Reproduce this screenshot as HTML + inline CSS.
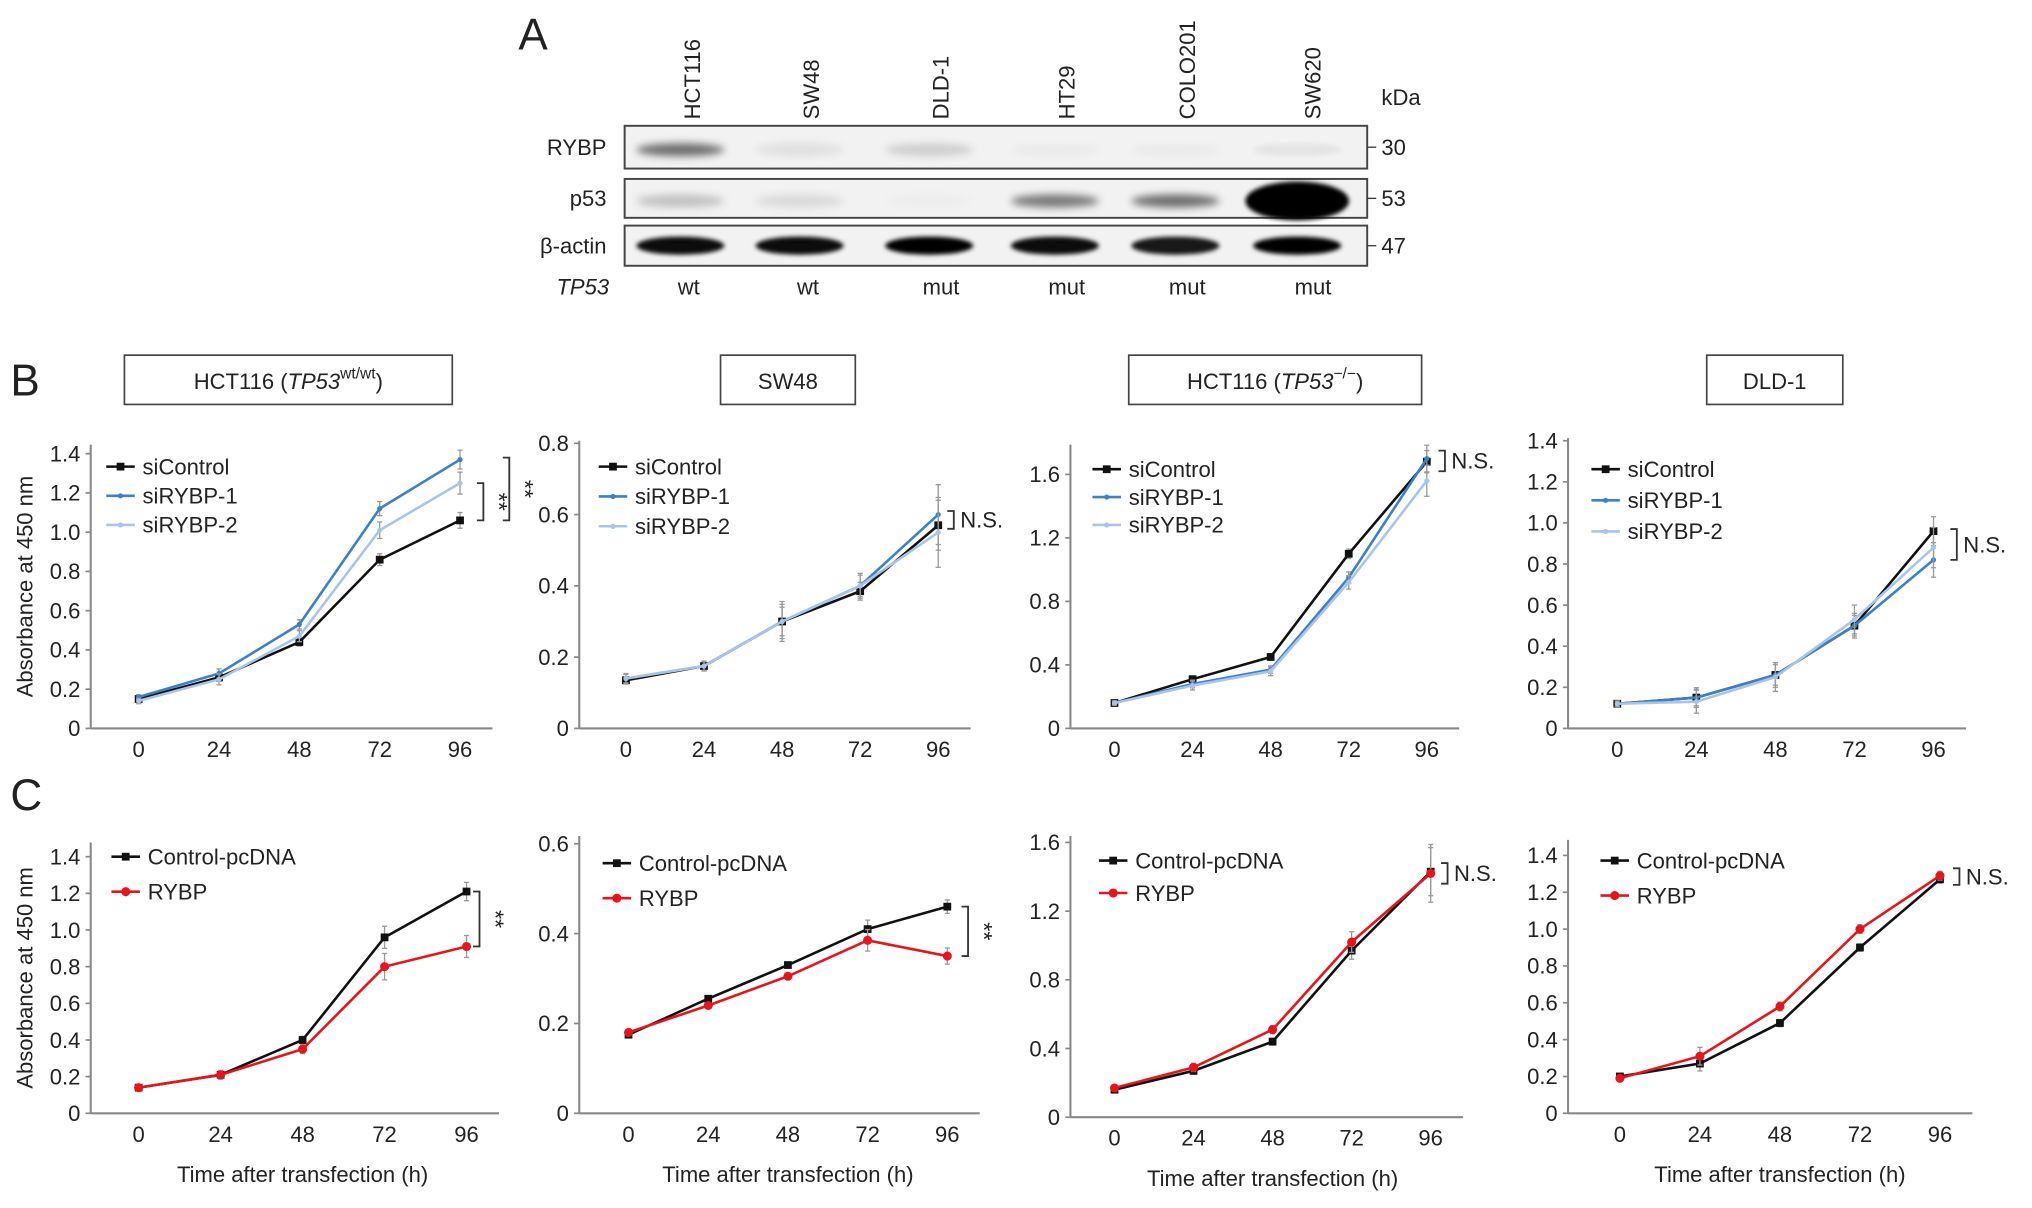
<!DOCTYPE html>
<html><head><meta charset="utf-8"><style>
html,body{margin:0;padding:0;background:#fff;}
svg{display:block;}
text{font-family:"Liberation Sans",Arial,sans-serif;fill:#222;}
</style></head><body>
<svg id="fig" width="2032" height="1208" viewBox="0 0 1568 932" xmlns="http://www.w3.org/2000/svg">
<defs>
<filter id="blur2" x="-50%" y="-100%" width="200%" height="300%"><feGaussianBlur stdDeviation="3"/></filter>
<filter id="blur1" x="-50%" y="-100%" width="200%" height="300%"><feGaussianBlur stdDeviation="1.6"/></filter>
</defs>
<g id="panelA">
<text x="400" y="38" font-size="34">A</text>
</g>
<g id="charts"></g>
</svg>
<script>
const NS='http://www.w3.org/2000/svg';
const svg=document.getElementById('fig');
const A=document.getElementById('panelA');
const C=document.getElementById('charts');
function mk(tag,attrs,parent,txt){const e=document.createElementNS(NS,tag);for(const k in attrs)e.setAttribute(k,attrs[k]);if(txt!==undefined)e.textContent=txt;(parent||svg).appendChild(e);return e;}

// ---------- Panel A: blot ----------
const laneNames=['HCT116','SW48','DLD-1','HT29','COLO201','SW620'];
const laneX=[533,625,725,822,915,1012];
const tp53Status=['wt','wt','mut','mut','mut','mut'];
const rybpIntensity=[0.55,0.08,0.15,0.03,0.03,0.06];
const p53Intensity=[0.2,0.1,0.02,0.5,0.55,1.0];
const actinIntensity=[0.95,0.95,1.0,0.95,0.9,1.0];
const rowNames=['RYBP','p53','β-actin'];
const rowY=[[97,130],[138,168],[174,205]];
const kda=['30','53','47'];
laneNames.forEach((n,i)=>{
  const t=mk('text',{x:laneX[i]+7,y:92,'font-size':17,transform:`rotate(-90 ${laneX[i]+7} 92)`},A,n);
  
  
  const s=mk('text',{x:laneX[i]-10+(i>1?-3:0),y:227,'font-size':17,'text-anchor':'start'},A,tp53Status[i]);
  
  
});
mk('text',{x:1066,y:81,'font-size':17},A,'kDa');
rowNames.forEach((n,r)=>{
  const [y0,y1]=rowY[r];
  const box=mk('rect',{x:482,y:y0,width:573,height:y1-y0,fill:'#f2f2f2',stroke:'#444','stroke-width':1.5},A);
  
  
  const l=mk('text',{x:468,y:(y0+y1)/2+6,'font-size':17,'text-anchor':'end'},A,n);
  
  
  mk('line',{x1:1055,y1:(y0+y1)/2,x2:1062,y2:(y0+y1)/2,stroke:'#333'},A);
  mk('text',{x:1066,y:(y0+y1)/2+6,'font-size':17},A,kda[r]);
  const vals=r===0?rybpIntensity:r===1?p53Intensity:actinIntensity;
  laneNames.forEach((_,i)=>{
    const v=vals[i];
    let ry=r===2?7:(r===1&&i===5?15:5);
    let rx=r===1&&i===5?40:34;
    const b=mk('ellipse',{cx:laneX[i]-8+(i===5?-3:0),cy:(y0+y1)/2+(r===2?0:2),rx:rx,ry:ry,fill:'#000','fill-opacity':v,filter:r===2||i===5?'url(#blur1)':'url(#blur2)'},A);
    
    
  });
});
mk('text',{x:470,y:227,'font-size':17,'text-anchor':'end','font-style':'italic'},A,'TP53');

// ---------- Panel labels & title boxes ----------
mk('text',{x:8,y:305,'font-size':34},C,'B');
mk('text',{x:8,y:625,'font-size':34},C,'C');
const titleBoxes=[[96,274,253,38,'HCT116 (','TP53','wt/wt',')'],[556,274,104,38,'SW48'],[871,274,226,38,'HCT116 (','TP53','−/−',')'],[1317,274,105,38,'DLD-1']];
titleBoxes.forEach(b=>{
  const g=mk('g',{},C);
  
  
  mk('rect',{x:b[0],y:b[1],width:b[2],height:b[3],fill:'#fff',stroke:'#444','stroke-width':1.3},g);
  const t=mk('text',{x:b[0]+b[2]/2,y:b[1]+26,'font-size':17,'text-anchor':'middle'},g);
  if(b.length===5){t.textContent=b[4];}
  else{
    mk('tspan',{},t,b[4]);mk('tspan',{'font-style':'italic'},t,b[5]);
    mk('tspan',{'font-size':12,dy:-8},t,b[6]);mk('tspan',{dy:8},t,b[7]);
  }
});

// ---------- Chart data ----------
const timePoints=[0,24,48,72,96];
const siLabels=['siControl','siRYBP-1','siRYBP-2'];
const ovLabels=['Control-pcDNA','RYBP'];
// Panel B
const b1Control=[0.15,0.26,0.44,0.86,1.06];
const b1RYBP1=[0.16,0.28,0.53,1.12,1.37];
const b1RYBP2=[0.14,0.25,0.47,1.01,1.25];
const b2Control=[0.135,0.175,0.30,0.385,0.57];
const b2RYBP1=[0.14,0.175,0.30,0.40,0.60];
const b2RYBP2=[0.14,0.175,0.30,0.40,0.55];
const b3Control=[0.16,0.31,0.45,1.10,1.68];
const b3RYBP1=[0.16,0.28,0.37,0.95,1.70];
const b3RYBP2=[0.16,0.27,0.36,0.92,1.56];
const b4Control=[0.12,0.15,0.26,0.50,0.96];
const b4RYBP1=[0.12,0.15,0.26,0.50,0.82];
const b4RYBP2=[0.12,0.13,0.25,0.53,0.88];
// Panel C
const c1Control=[0.14,0.21,0.40,0.96,1.21];
const c1RYBP=[0.14,0.21,0.35,0.80,0.91];
const c2Control=[0.175,0.255,0.33,0.41,0.46];
const c2RYBP=[0.18,0.24,0.305,0.385,0.35];
const c3Control=[0.16,0.27,0.44,0.97,1.43];
const c3RYBP=[0.17,0.29,0.51,1.02,1.42];
const c4Control=[0.20,0.27,0.49,0.90,1.27];
const c4RYBP=[0.19,0.31,0.58,1.00,1.29];
// error bar sizes
const b1Err=[0.01,0.02,0.02,0.03,0.04];
const b2Err=[0.01,0.01,0.04,0.025,0.07];
const b3Err=[0.01,0.02,0.02,0.03,0.07];
const b4Err=[0.01,0.04,0.05,0.05,0.07];
const c1Err=[0.01,0.02,0.02,0.06,0.05];
const c2Err=[0.005,0.005,0.005,0.02,0.015];
const c3Err=[0.01,0.02,0.02,0.05,0.14];
const c4Err=[0.01,0.04,0.02,0.02,0.02];
const yTicks08=['0','0.2','0.4','0.6','0.8'];
const yTicks14=['0','0.2','0.4','0.6','0.8','1.0','1.2','1.4'];
const yTicks16=['0','0.4','0.8','1.2','1.6'];
const yTicks06=['0','0.2','0.4','0.6'];

const BLACK='#111',BLUE='#3d7fc9',LBLUE='#a8c5e8',RED='#e8141c';

function chart(cfg){
  const g=mk('g',{},C);
  
  
  const sx=t=>cfg.x0+(t-timePoints[0])/(timePoints[timePoints.length-1]-timePoints[0])*(cfg.x1-cfg.x0);
  const sy=v=>cfg.yb-(v/cfg.ymax)*(cfg.yb-cfg.yt);
  // axes
  const ya=mk('line',{x1:cfg.ax,y1:cfg.atop,x2:cfg.ax,y2:cfg.yb,stroke:'#888','stroke-width':1.6},g);
  
  
  const xa=mk('line',{x1:cfg.ax,y1:cfg.yb,x2:cfg.x1+25,y2:cfg.yb,stroke:'#888','stroke-width':1.6},g);
  
  
  cfg.ticks.forEach(t=>{
    const y=sy(parseFloat(t));
    mk('line',{x1:cfg.ax-4,y1:y,x2:cfg.ax,y2:y,stroke:'#888','stroke-width':1.3},g);
    const l=mk('text',{x:cfg.ax-8,y:y+6,'font-size':17,'text-anchor':'end'},g,t);
    
    
  });
  timePoints.forEach(t=>{
    const l=mk('text',{x:sx(t),y:cfg.yb+22,'font-size':17,'text-anchor':'middle'},g,String(t));
    
    
  });
  if(cfg.ytitle){
    const yt=mk('text',{x:0,y:0,'font-size':17,'text-anchor':'middle',transform:`translate(${cfg.ax-45},${(cfg.atop+cfg.yb)/2}) rotate(-90)`},g,'Absorbance at 450 nm');
    
    
  }
  if(cfg.xtitle){
    const xt=mk('text',{x:(cfg.x0+cfg.x1)/2,y:cfg.yb+53,'font-size':17,'text-anchor':'middle'},g,'Time after transfection (h)');
    
    
  }
  cfg.series.forEach((s,si)=>{
    const sg=mk('g',{},g);
    
    
    s.vals.forEach((v,i)=>{
      const e=cfg.err[i]*(1+0.2*si);
      mk('line',{x1:sx(timePoints[i]),y1:sy(v-e),x2:sx(timePoints[i]),y2:sy(v+e),stroke:'#999','stroke-width':1},sg);
      mk('line',{x1:sx(timePoints[i])-2,y1:sy(v+e),x2:sx(timePoints[i])+2,y2:sy(v+e),stroke:'#999','stroke-width':1},sg);
      mk('line',{x1:sx(timePoints[i])-2,y1:sy(v-e),x2:sx(timePoints[i])+2,y2:sy(v-e),stroke:'#999','stroke-width':1},sg);
    });
    const pts=s.vals.map((v,i)=>sx(timePoints[i])+','+sy(v)).join(' ');
    const pl=mk('polyline',{points:pts,fill:'none',stroke:s.color,'stroke-width':2},sg);
    
    
    s.vals.forEach((v,i)=>{
      const m=s.marker==='sq'?mk('rect',{x:sx(timePoints[i])-3,y:sy(v)-3,width:6,height:6,fill:s.color},sg)
        :mk('circle',{cx:sx(timePoints[i]),cy:sy(v),r:s.marker==='dot'?3.5:2,fill:s.color},sg);
      
      
    });
    // legend
    const ly=cfg.ly+si*cfg.lgap;
    const lg=mk('g',{},g);
    
    
    mk('line',{x1:cfg.lx,y1:ly,x2:cfg.lx+22,y2:ly,stroke:s.color,'stroke-width':2},lg);
    if(s.marker==='sq')mk('rect',{x:cfg.lx+8,y:ly-3,width:6,height:6,fill:s.color},lg);
    else mk('circle',{cx:cfg.lx+11,cy:ly,r:s.marker==='dot'?3.5:2,fill:s.color},lg);
    mk('text',{x:cfg.lx+28,y:ly+6,'font-size':17},lg,s.label);
  });
  (cfg.sig||[]).forEach(b=>{
    const sgG=mk('g',{},g);
    
    
    const y0=sy(b.v0),y1=sy(b.v1);
    mk('path',{d:`M${b.x-5},${y0} H${b.x} V${y1} H${b.x-5}`,fill:'none',stroke:'#333','stroke-width':1.4},sgG);
    if(b.t==='**'){
      const cy=(y0+y1)/2;
      mk('text',{x:0,y:0,'font-size':18,'text-anchor':'middle',transform:`translate(${b.x+6},${cy}) rotate(90)`},sgG,'**');
    } else {
      mk('text',{x:b.x+5,y:(y0+y1)/2+6,'font-size':17},sgG,'N.S.');
    }
  });
}
const si3=(a,b,c)=>[{label:siLabels[0],vals:a,color:BLACK,marker:'sq'},{label:siLabels[1],vals:b,color:BLUE,marker:'pt'},{label:siLabels[2],vals:c,color:LBLUE,marker:'pt'}];
const ov2=(a,b)=>[{label:ovLabels[0],vals:a,color:BLACK,marker:'sq'},{label:ovLabels[1],vals:b,color:RED,marker:'dot'}];

chart({name:'chart-b-hct116-wt',ax:70,atop:343,yb:562,yt:350,ymax:1.4,x0:107,x1:355,ticks:yTicks14,err:b1Err,series:si3(b1Control,b1RYBP1,b1RYBP2),lx:82,ly:360,lgap:22.5,ytitle:true,
  sig:[{x:373,v0:1.25,v1:1.06,t:'**'},{x:393,v0:1.38,v1:1.06,t:'**'}]});
chart({name:'chart-b-sw48',ax:447,atop:340,yb:562,yt:342,ymax:0.8,x0:483,x1:724,ticks:yTicks08,err:b2Err,series:si3(b2Control,b2RYBP1,b2RYBP2),lx:462,ly:360,lgap:23,
  sig:[{x:736,v0:0.61,v1:0.56,t:'NS'}]});
chart({name:'chart-b-hct116-null',ax:826,atop:343,yb:562,yt:366,ymax:1.6,x0:860,x1:1101,ticks:yTicks16,err:b3Err,series:si3(b3Control,b3RYBP1,b3RYBP2),lx:843,ly:362,lgap:21.5,
  sig:[{x:1115,v0:1.75,v1:1.62,t:'NS'}]});
chart({name:'chart-b-dld1',ax:1210,atop:338,yb:562,yt:340,ymax:1.4,x0:1248,x1:1492,ticks:yTicks14,err:b4Err,series:si3(b4Control,b4RYBP1,b4RYBP2),lx:1228,ly:362,lgap:24,
  sig:[{x:1510,v0:0.97,v1:0.82,t:'NS'}]});

chart({name:'chart-c-hct116-wt',ax:70,atop:650,yb:859,yt:661,ymax:1.4,x0:107,x1:360,ticks:yTicks14,err:c1Err,series:ov2(c1Control,c1RYBP),lx:86,ly:661,lgap:27,ytitle:true,xtitle:true,
  sig:[{x:370,v0:1.21,v1:0.91,t:'**'}]});
chart({name:'chart-c-sw48',ax:447,atop:645,yb:859,yt:651,ymax:0.6,x0:485,x1:731,ticks:yTicks06,err:c2Err,series:ov2(c2Control,c2RYBP),lx:465,ly:666,lgap:27,xtitle:true,
  sig:[{x:747,v0:0.46,v1:0.35,t:'**'}]});
chart({name:'chart-c-hct116-null',ax:826,atop:645,yb:862,yt:650,ymax:1.6,x0:860,x1:1104,ticks:yTicks16,err:c3Err,series:ov2(c3Control,c3RYBP),lx:848,ly:664,lgap:25,xtitle:true,
  sig:[{x:1117,v0:1.48,v1:1.36,t:'NS'}]});
chart({name:'chart-c-dld1',ax:1210,atop:648,yb:859,yt:660,ymax:1.4,x0:1250,x1:1497,ticks:yTicks14,err:c4Err,series:ov2(c4Control,c4RYBP),lx:1235,ly:664,lgap:27,xtitle:true,
  sig:[{x:1512,v0:1.33,v1:1.24,t:'NS'}]});
</script>
</body></html>
